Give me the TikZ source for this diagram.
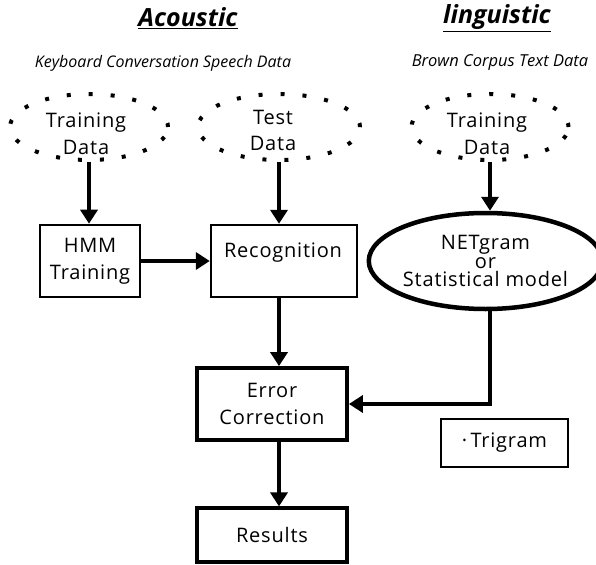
\documentclass[tikz,border=0pt]{standalone}
\usepackage{fontspec}
\setmainfont{Open Sans}
\newfontfamily\bodyfont[LetterSpace=4]{Open Sans}
\usetikzlibrary{arrows.meta,shapes.geometric}
\tikzset{
  flow/.style={line width=3.8pt,-{Triangle[width=17pt,length=14pt]}},
  bodytext/.style={font=\bodyfont\fontsize{20}{27}\selectfont,align=center},
  dotell/.style={ellipse,draw,line width=4pt,dash pattern=on 4pt off 18pt,inner sep=0pt},
  boxnode/.style={draw,rectangle,inner sep=0pt,bodytext},
  title/.style={font=\fontsize{25}{28}\selectfont\bfseries\itshape},
  subtitle/.style={font=\fontsize{16}{19}\selectfont\itshape}
}
\begin{document}
\begin{tikzpicture}[x=1pt,y=-1pt]
\useasboundingbox (0,0) rectangle (596,564);
% titles
\node[title] (tac) at (188,18) {\underline{Acoustic}};
\node[title] (tli) at (497,18) {\underline{linguistic}};
\node[subtitle] (sac) at (163,63) {Keyboard Conversation Speech Data};
\node[subtitle,font=\fontsize{16.5}{19}\selectfont\itshape] (sli) at (500,63) {Brown Corpus Text Data};
% data ellipses
\node[dotell,minimum width=158pt,minimum height=66pt] (tr1) at (89,127) {};
\node[bodytext] (tr1t) at (86,134) {Training\\Data};
\node[dotell,minimum width=162pt,minimum height=66pt] (te) at (279,127) {};
\node[bodytext,font=\bodyfont\fontsize{20}{26}\selectfont] (tet) at (273,130) {Test\\Data};
\node[dotell,minimum width=157pt,minimum height=66pt] (tr2) at (490,127) {};
\node[bodytext] (tr2t) at (487,134) {Training\\Data};
% boxes
\node[boxnode,line width=2.6pt,minimum width=100pt,minimum height=72pt] (hmm) at (90,261) {HMM\\Training};
\node[boxnode,line width=2.4pt,minimum width=146pt,minimum height=72pt] (rec) at (284,261) {};
\node[bodytext] (rect) at (283,253) {Recognition};
\node[ellipse,draw,line width=4.5pt,minimum width=212pt,minimum height=96pt,inner sep=0pt,bodytext,font=\bodyfont\fontsize{20}{18.5}\selectfont] (net) at (485.5,261) {NETgram\\or\\Statistical model};
\node[boxnode,line width=3.8pt,minimum width=150pt,minimum height=72pt] (err) at (272,404) {Error\\Correction};
\node[boxnode,line width=1.1pt,minimum width=127pt,minimum height=48pt] (tri) at (504.5,443) {\textperiodcentered\,Trigram};
\node[boxnode,line width=3.2pt,minimum width=150pt,minimum height=54pt] (res) at (272,535) {Results};
% connectors
\draw[flow] (tr1.south) -- (tr1.south |- hmm.north);
\draw[flow] (te.south) -- (te.south |- rec.north);
\draw[flow] (tr2.south) -- (tr2.south |- net.north);
\draw[flow] (hmm.east) -- (rec.west);
\draw[flow] (rec.south -| te.south) -- (err.north -| te.south);
\draw[flow] (err.south -| te.south) -- (res.north -| te.south);
\draw[flow] (tr2.south |- net.south) -- (tr2.south |- err.east) -- (err.east);
\end{tikzpicture}
\end{document}
